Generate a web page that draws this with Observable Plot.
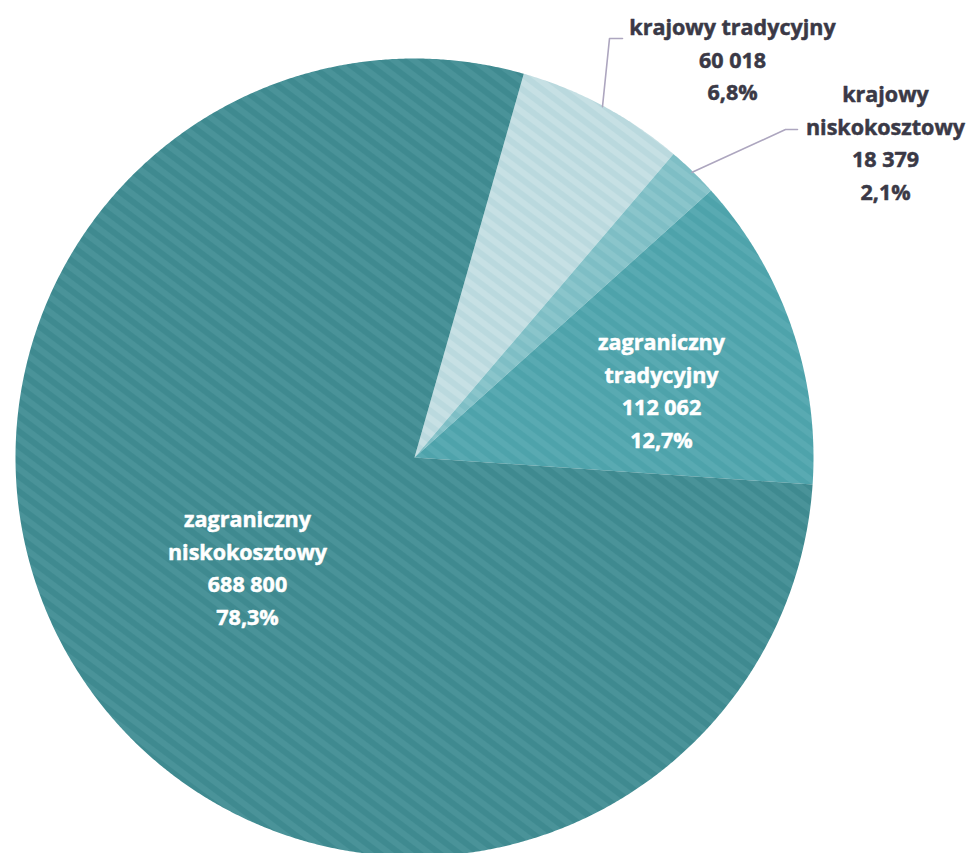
<!DOCTYPE html>
<html>
<head>
<meta charset="utf-8">
<script src="https://cdn.jsdelivr.net/npm/d3@7"></script>
<script src="https://cdn.jsdelivr.net/npm/@observablehq/plot@0.6"></script>
<style>
  html, body { margin: 0; padding: 0; background: #fff; }
  #chart svg { display: block; }
</style>
</head>
<body>
<div id="chart"></div>
<script>
// ---- data ----
const categories = ["krajowy tradycyjny", "krajowy niskokosztowy", "zagraniczny tradycyjny", "zagraniczny niskokosztowy"];
const values = [60018, 18379, 112062, 688800];
const percents = [6.8, 2.1, 12.7, 78.3];
const labelLines = [["krajowy tradycyjny"], ["krajowy", "niskokosztowy"], ["zagraniczny", "tradycyjny"], ["zagraniczny", "niskokosztowy"]];

// ---- layout / style ----
const W = 974, H = 853;
const cx = 414, cy = 457, R = 399;
const startDeg = 15.9;
const baseColors = ["#bad9de", "#7ebec5", "#4ea3ab", "#3f8a90"];
const stripeColors = ["#c6e0e4", "#8ac5cb", "#59aab2", "#4a9399"];
// label block centres
const labelPos = [[732, 57, "#3a3946"], [885, 140, "#3a3946"], [661, 388, "#ffffff"], [247, 565, "#ffffff"]];
const elbows = [[[609, 38], [622, 38]], [[785, 129], [797, 129]]];

const loc = d3.formatLocale({decimal: ",", thousands: "\u00a0", grouping: [3], currency: ["", " zł"]});
const fmtInt = loc.format(",d");
const fmtPct = d => d.toFixed(1).replace(".", ",") + "%";

const arcs = d3.pie().sort(null).startAngle(startDeg * Math.PI / 180).endAngle(startDeg * Math.PI / 180 + 2 * Math.PI)(values);

// slice polygons
const pts = [];
arcs.forEach((a, i) => {
  const n = Math.max(4, Math.ceil((a.endAngle - a.startAngle) * 180));
  pts.push({k: i, x: cx, y: cy});
  for (let j = 0; j <= n; j++) {
    const t = a.startAngle + (a.endAngle - a.startAngle) * j / n;
    pts.push({k: i, x: cx + R * Math.sin(t), y: cy - R * Math.cos(t)});
  }
});

// labels
const labels = categories.map((c, i) => ({
  x: labelPos[i][0], y: labelPos[i][1], color: labelPos[i][2],
  text: [...labelLines[i], fmtInt(values[i]), fmtPct(percents[i])].join("\n")
}));

// leader lines
const leaders = [];
[0, 1].forEach(i => {
  const a = arcs[i], m = (a.startAngle + a.endAngle) / 2;
  leaders.push({k: i, x: cx + (R - 1) * Math.sin(m), y: cy - (R - 1) * Math.cos(m)});
  elbows[i].forEach(p => leaders.push({k: i, x: p[0], y: p[1]}));
});

const defs = () => {
  const d = d3.create("svg:defs");
  baseColors.forEach((c, i) => {
    const p = d.append("pattern").attr("id", "stripe" + i).attr("patternUnits", "userSpaceOnUse")
      .attr("width", 12).attr("height", 12).attr("patternTransform", "rotate(37)");
    p.append("rect").attr("width", 12).attr("height", 12).attr("fill", c);
    p.append("rect").attr("width", 12).attr("height", 6).attr("fill", stripeColors[i]);
  });
  return d.node();
};

const chart = Plot.plot({
  width: W, height: H,
  margin: 0,
  x: {domain: [0, W], range: [0, W], axis: null},
  y: {domain: [0, H], range: [0, H], axis: null},
  style: {fontFamily: "'Open Sans', 'Noto Sans', sans-serif", background: "#fff"},
  marks: [
    defs,
    ...arcs.map((a, i) => Plot.line(pts.filter(p => p.k === i), {
      x: "x", y: "y", curve: "linear-closed", fill: `url(#stripe${i})`, stroke: "none"
    })),
    Plot.line(leaders, {x: "x", y: "y", z: "k", stroke: "#ada6bf", strokeWidth: 1.6}),
    Plot.text(labels, {
      x: "x", y: "y", text: "text", fill: "color", stroke: "color", strokeWidth: 0.5,
      fontSize: 21.5, fontWeight: 700,
      lineHeight: 1.51, lineAnchor: "middle", textAnchor: "middle", frameAnchor: "middle"
    })
  ]
});
document.getElementById("chart").appendChild(chart);
</script>
</body>
</html>
